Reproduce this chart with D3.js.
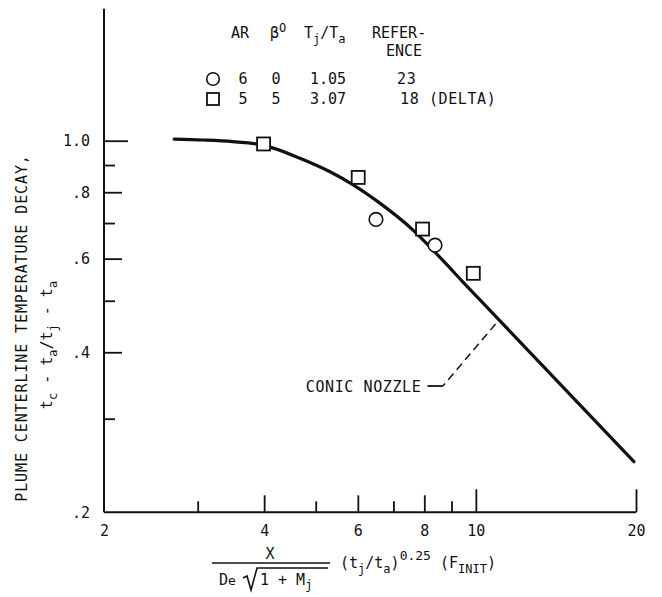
<!DOCTYPE html>
<html><head><meta charset="utf-8">
<script src="https://cdn.jsdelivr.net/npm/d3@7"></script>
<style>
body{margin:0;background:#fff}
svg text{font-family:"DejaVu Sans Mono",monospace;font-size:15px;fill:#111}
</style></head><body><svg id="c" width="662" height="597"></svg>
<script>
// ---- data ----
const squareX=[3.99,6.01,7.94,9.89];
const squareY=[0.986,0.853,0.682,0.563];
const circleX=[6.49,8.38];
const circleY=[0.711,0.636];
const curveX=[2.71,3.07,3.49,3.98,4.67,5.32,5.88,6.6,7.62,8.2,8.83,9.46,10.18,11.59,19.82];
const curveY=[1.007,1.003,0.996,0.981,0.927,0.874,0.826,0.763,0.679,0.631,0.584,0.542,0.502,0.438,0.249];
const xTickLabels=[2,4,6,8,10,20];
const xMidTicks=[4,6,8];
const xLongTicks=[10,20];
const xMinorTicks=[3,5,7,9];
const yTickLabels=[1.0,0.8,0.6,0.4,0.2];
const yLongTicks=[1.0];
const yMidTicks=[0.8,0.6,0.4];
const yMinorTicks=[0.9,0.7,0.5,0.3];
const legendAR=["6","5"];
const legendBeta=["0","5"];
const legendRatio=["1.05","3.07"];
const legendRef=["23","18 (DELTA)"];
const legendSym=["circle","square"];
const noteLabel="CONIC NOZZLE";
const noteStartPt=[10.89,0.452];
const noteElbowPt=[8.67,0.3456];
const noteTextEndX=7.9;

const svg=d3.select("#c");
svg.append("rect").attr("width",662).attr("height",597).attr("fill","#fff");
const x=d3.scaleLog().domain([2,20]).range([104,636]);
const y=d3.scaleLog().domain([0.2,1]).range([512.3,140.7]);
const yTop=1.77;
const ink="#111";

// axis lines
svg.append("line").attr("x1",x(2)).attr("x2",x(2)).attr("y1",y(yTop)).attr("y2",y(0.2)).attr("stroke",ink).attr("stroke-width",2);
svg.append("line").attr("x1",x(2)).attr("x2",x(20)).attr("y1",y(0.2)).attr("y2",y(0.2)).attr("stroke",ink).attr("stroke-width",2);

function tickAxis(axis,vals,len,tx,ty){
  const g=svg.append("g").attr("transform",`translate(${tx},${ty})`).call(axis.tickValues(vals).tickSize(-len).tickFormat(""));
  g.select(".domain").remove();
  g.selectAll(".tick line").attr("stroke",ink).attr("stroke-width",1.8);
}
tickAxis(d3.axisBottom(x),xLongTicks,23,0,y(0.2));
tickAxis(d3.axisBottom(x),xMidTicks,17,0,y(0.2));
tickAxis(d3.axisBottom(x),xMinorTicks,11,0,y(0.2));
tickAxis(d3.axisLeft(y),yLongTicks,24,x(2),0);
tickAxis(d3.axisLeft(y),yMidTicks,18,x(2),0);
tickAxis(d3.axisLeft(y),yMinorTicks,11,x(2),0);

// tick labels
const gx=svg.append("g").attr("transform",`translate(0,${y(0.2)})`)
  .call(d3.axisBottom(x).tickValues(xTickLabels).tickSize(0).tickPadding(13).tickFormat(d=>String(d)));
gx.select(".domain").remove();
gx.selectAll("text").attr("font-size",15).attr("fill",ink);
const gy=svg.append("g").attr("transform",`translate(${x(2)},0)`)
  .call(d3.axisLeft(y).tickValues(yTickLabels).tickSize(0).tickPadding(14).tickFormat(d=>d===1?"1.0":d3.format(".1f")(d).replace(/^0/,"")));
gy.select(".domain").remove();
gy.selectAll("text").attr("font-size",15).attr("fill",ink);

// curve
const pts=curveX.map((v,i)=>[x(v),y(curveY[i])]);
svg.append("path").attr("d",d3.line().curve(d3.curveMonotoneX)(pts))
  .attr("fill","none").attr("stroke",ink).attr("stroke-width",3.2).attr("stroke-linecap","round");

// markers
const sq=13;
svg.selectAll("rect.sq").data(squareX.map((v,i)=>[v,squareY[i]])).join("rect")
  .attr("x",d=>x(d[0])-sq/2).attr("y",d=>y(d[1])-sq/2).attr("width",sq).attr("height",sq)
  .attr("fill","#fff").attr("stroke",ink).attr("stroke-width",1.8);
svg.selectAll("circle.ci").data(circleX.map((v,i)=>[v,circleY[i]])).join("circle")
  .attr("cx",d=>x(d[0])).attr("cy",d=>y(d[1])).attr("r",6.8)
  .attr("fill","#fff").attr("stroke",ink).attr("stroke-width",1.6);

// annotation
svg.append("line").attr("x1",x(noteStartPt[0])).attr("y1",y(noteStartPt[1]))
  .attr("x2",x(noteElbowPt[0])).attr("y2",y(noteElbowPt[1]))
  .attr("stroke",ink).attr("stroke-width",1.5).attr("stroke-dasharray","8,5");
svg.append("line").attr("x1",x(noteElbowPt[0])).attr("y1",y(noteElbowPt[1]))
  .attr("x2",x(noteTextEndX)+6).attr("y2",y(noteElbowPt[1]))
  .attr("stroke",ink).attr("stroke-width",1.8);
svg.append("text").attr("x",x(noteTextEndX)).attr("y",y(noteElbowPt[1])+5.5)
  .attr("text-anchor","end").attr("letter-spacing",0.6).text(noteLabel);

// legend
const hdrY=38, hdr2Y=56, row1Y=84, row2Y=104;
svg.append("text").attr("x",240).attr("y",hdrY).attr("text-anchor","middle").text("AR");
const bt=svg.append("text").attr("x",270).attr("y",hdrY);
bt.append("tspan").text("β");
bt.append("tspan").attr("dy",-6).attr("font-size",12).text("O");
const tt=svg.append("text").attr("x",304).attr("y",hdrY);
tt.append("tspan").text("T");
tt.append("tspan").attr("dy",5).attr("font-size",12).text("j");
tt.append("tspan").attr("dy",-5).text("/T");
tt.append("tspan").attr("dy",5).attr("font-size",12).text("a");
svg.append("text").attr("x",372).attr("y",hdrY).text("REFER-");
svg.append("text").attr("x",386).attr("y",hdr2Y).text("ENCE");
const rowsY=[row1Y,row2Y];
legendSym.forEach((s,i)=>{
  const cy=rowsY[i]-5;
  if(s==="circle") svg.append("circle").attr("cx",213).attr("cy",cy).attr("r",6.3).attr("fill","#fff").attr("stroke",ink).attr("stroke-width",1.6);
  else svg.append("rect").attr("x",207).attr("y",cy-6).attr("width",12).attr("height",12).attr("fill","#fff").attr("stroke",ink).attr("stroke-width",1.8);
  svg.append("text").attr("x",243).attr("y",rowsY[i]).attr("text-anchor","middle").text(legendAR[i]);
  svg.append("text").attr("x",276).attr("y",rowsY[i]).attr("text-anchor","middle").text(legendBeta[i]);
  svg.append("text").attr("x",310).attr("y",rowsY[i]).text(legendRatio[i]);
  svg.append("text").attr("x",i===0?397:400).attr("y",rowsY[i]).attr("letter-spacing",0.6).text(legendRef[i]);
});

// y axis title
const yl=svg.append("g");
yl.append("text").attr("transform","translate(27,328) rotate(-90)").attr("text-anchor","middle")
  .attr("letter-spacing",0.9).text("PLUME CENTERLINE TEMPERATURE DECAY,");
const t2=yl.append("text").attr("transform","translate(52,345) rotate(-90)").attr("text-anchor","middle");
t2.append("tspan").text("t");
t2.append("tspan").attr("dy",5).attr("font-size",12).text("c");
t2.append("tspan").attr("dy",-5).text(" - t");
t2.append("tspan").attr("dy",5).attr("font-size",12).text("a");
t2.append("tspan").attr("dy",-5).text("/t");
t2.append("tspan").attr("dy",5).attr("font-size",12).text("j");
t2.append("tspan").attr("dy",-5).text(" - t");
t2.append("tspan").attr("dy",5).attr("font-size",12).text("a");

// x axis title
svg.append("text").attr("x",270).attr("y",559).attr("text-anchor","middle").text("X");
svg.append("line").attr("x1",212).attr("x2",330).attr("y1",563).attr("y2",563).attr("stroke",ink).attr("stroke-width",1.5);
const de=svg.append("text").attr("x",219).attr("y",585);
de.append("tspan").text("D");
de.append("tspan").attr("font-size",13).text("e");
svg.append("path").attr("d","M243,578 L247,576 L251,590 L257,568 L328,568")
  .attr("fill","none").attr("stroke",ink).attr("stroke-width",1.6);
const rad=svg.append("text").attr("x",260).attr("y",585);
rad.append("tspan").text("1 + M");
rad.append("tspan").attr("dy",4).attr("font-size",12).text("j");
const tr=svg.append("text").attr("x",340).attr("y",568);
tr.append("tspan").text("(t");
tr.append("tspan").attr("dy",5).attr("font-size",12).text("j");
tr.append("tspan").attr("dy",-5).text("/t");
tr.append("tspan").attr("dy",5).attr("font-size",12).text("a");
tr.append("tspan").attr("dy",-5).text(")");
tr.append("tspan").attr("dy",-8).attr("font-size",13).text("0.25");
tr.append("tspan").attr("dy",8).text(" (F");
tr.append("tspan").attr("dy",5).attr("font-size",12).text("INIT");
tr.append("tspan").attr("dy",-5).text(")");
</script></body></html>
